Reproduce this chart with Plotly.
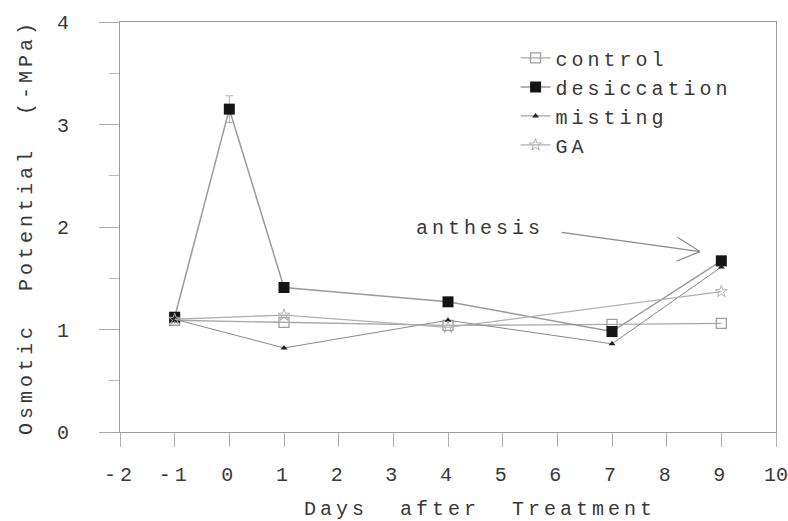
import plotly.graph_objects as go

# ---- data ----
days_control = [-1, 1, 4, 7, 9]
control = [1.09, 1.07, 1.04, 1.05, 1.06]

days_desic = [-1, 0, 1, 4, 7, 9]
desiccation = [1.12, 3.15, 1.41, 1.27, 0.98, 1.67]
desic_err = [0.02, 0.13, 0.02, 0.02, 0.02, 0.02]

days_misting = [-1, 1, 4, 7, 9]
misting = [1.10, 0.82, 1.09, 0.86, 1.61]

days_ga = [-1, 1, 4, 9]
ga = [1.10, 1.14, 1.02, 1.37]

x_ticks = list(range(-2, 11))
y_ticks = [0, 1, 2, 3, 4]

FONT = "Liberation Mono, Courier New, monospace"
TXT = "#383838"
FS = 20
LS = 4  # letter spacing px


def sp(s, ls=LS):
    s = s.replace(" ", "\u00a0")
    return f'<span style="letter-spacing:{ls}px">{s}</span>'


fig = go.Figure()

fig.add_trace(go.Scatter(
    x=days_control, y=control, name=sp("control"), mode="lines+markers",
    line=dict(color="#a8a8a8", width=1.3),
    marker=dict(symbol="square-open", size=10, color="#a0a0a0", line=dict(width=1.3)),
))
fig.add_trace(go.Scatter(
    x=days_desic, y=desiccation, name=sp("desiccation"), mode="lines+markers",
    line=dict(color="#9a9a9a", width=1.5),
    marker=dict(symbol="square", size=11, color="#151515"),
    error_y=dict(type="data", array=desic_err, color="#b0b0b0", thickness=1, width=4),
))
fig.add_trace(go.Scatter(
    x=days_misting, y=misting, name=sp("misting"), mode="lines+markers",
    line=dict(color="#8a8a8a", width=1),
    marker=dict(symbol="triangle-up", size=6, color="#202020"),
))
fig.add_trace(go.Scatter(
    x=days_ga, y=ga, name=sp("GA"), mode="lines+markers",
    line=dict(color="#b0b0b0", width=1.3),
    marker=dict(symbol="star-open", size=9, color="#b0b0b0", line=dict(width=1)),
))

# annotation "anthesis" with an open-V arrow
fig.add_annotation(x=4.58, y=1.99, xref="x", yref="y", text=sp("anthesis"),
                   showarrow=False, font=dict(family=FONT, size=FS, color=TXT))
fig.add_annotation(x=8.61, y=1.76, ax=6.05, ay=1.95, xref="x", yref="y",
                   axref="x", ayref="y", text="", showarrow=True,
                   arrowhead=0, arrowwidth=1.2, arrowcolor="#8a8a8a")
fig.add_annotation(x=8.61, y=1.76, ax=8.17, ay=1.91, xref="x", yref="y",
                   axref="x", ayref="y", text="", showarrow=True,
                   arrowhead=0, arrowwidth=1.2, arrowcolor="#8a8a8a")
fig.add_annotation(x=8.61, y=1.76, ax=8.15, ay=1.66, xref="x", yref="y",
                   axref="x", ayref="y", text="", showarrow=True,
                   arrowhead=0, arrowwidth=1.2, arrowcolor="#8a8a8a")

fig.update_layout(
    width=788, height=521,
    margin=dict(l=120, r=12, t=22, b=89, autoexpand=False),
    plot_bgcolor="white", paper_bgcolor="white",
    font=dict(family=FONT, size=FS, color=TXT),
    showlegend=True,
    legend=dict(x=0.603, y=0.96, xanchor="left", yanchor="top",
                bgcolor="rgba(0,0,0,0)", font=dict(family=FONT, size=FS, color=TXT),
                tracegroupgap=0, itemwidth=30),
)

fig.update_xaxes(
    range=[-2, 10], tickmode="array", tickvals=x_ticks,
    ticktext=[sp(f"{v}", 0 if v >= 10 else LS) for v in x_ticks],
    ticklabeloverflow="allow", automargin=False,
    showgrid=False, zeroline=False,
    showline=True, linecolor="#9a9a9a", linewidth=1, mirror=True,
    ticks="outside", ticklen=14, tickcolor="#b0b0b0", tickwidth=1,
    ticklabelstandoff=10,
    title=dict(text=sp("    Days  after  Treatment"), standoff=18,
               font=dict(family=FONT, size=FS, color=TXT)),
)
fig.update_yaxes(
    range=[0, 4], tickmode="array", tickvals=y_ticks,
    ticktext=[sp(f"{v}") for v in y_ticks],
    automargin=False,
    showgrid=False, zeroline=False,
    showline=True, linecolor="#9a9a9a", linewidth=1, mirror=True,
    ticks="outside", ticklen=20, tickcolor="#a8a8a8", tickwidth=1,
    minor=dict(dtick=0.5, ticks="outside", ticklen=10, tickcolor="#b8b8b8"),
    ticklabelstandoff=22,
    title=dict(text=sp("Osmotic  Potential  (-MPa)"), standoff=18,
               font=dict(family=FONT, size=FS, color=TXT)),
)

fig.write_html("out.html")
